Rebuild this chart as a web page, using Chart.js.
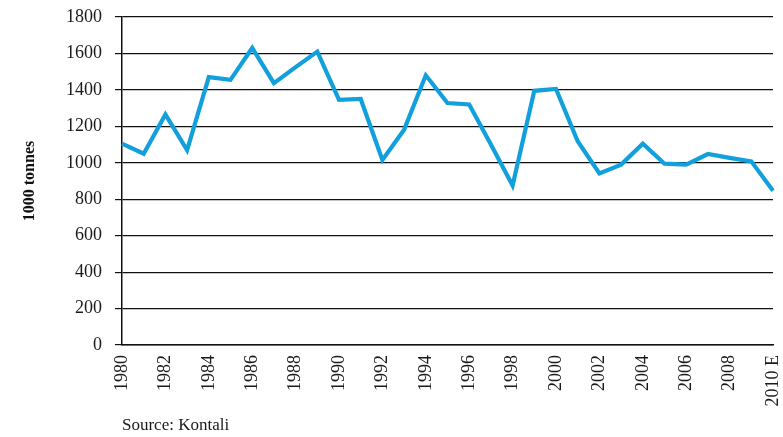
<!DOCTYPE html>
<html>
<head>
<meta charset="utf-8">
<script src="https://cdn.jsdelivr.net/npm/chart.js@4/dist/chart.umd.min.js"></script>
<style>
  html, body { margin: 0; padding: 0; background: #fff; }
  #wrap { width: 783px; height: 437px; position: relative; }
</style>
</head>
<body>
<div id="wrap"><canvas id="c"></canvas></div>
<script>
const categories = ['1980','1981','1982','1983','1984','1985','1986','1987','1988','1989',
  '1990','1991','1992','1993','1994','1995','1996','1997','1998','1999',
  '2000','2001','2002','2003','2004','2005','2006','2007','2008','2009','2010 E'];
const production = [1105,1050,1265,1070,1470,1455,1630,1437,1525,1610,
  1345,1350,1015,1182,1480,1328,1320,1100,875,1395,
  1405,1118,942,990,1105,995,990,1048,1027,1008,846];
const yTicks = [0,200,400,600,800,1000,1200,1400,1600,1800];
const yTitle = '1000 tonnes';
const sourceText = 'Source: Kontali';

const serif = "'Liberation Serif', 'DejaVu Serif', serif";

new Chart(document.getElementById('c'), {
  type: 'line',
  data: {
    labels: categories,
    datasets: [{
      data: production,
      borderColor: '#12a0dc',
      borderWidth: 4.2,
      borderJoinStyle: 'miter',
      pointRadius: 0,
      tension: 0,
      fill: false
    }]
  },
  options: {
    responsive: true,
    maintainAspectRatio: false,
    animation: false,
    layout: { padding: { top: 17, right: 10, left: 0, bottom: 0 } },
    plugins: {
      legend: { display: false },
      tooltip: { enabled: false },
      title: {
        display: true,
        text: sourceText,
        position: 'bottom',
        align: 'start',
        fullSize: false,
        color: '#1a1a1a',
        font: { family: serif, size: 17, weight: 'normal' },
        padding: { top: 0, bottom: 1.6 }
      }
    },
    scales: {
      x: {
        type: 'category',
        offset: false,
        grid: { display: false, drawTicks: false },
        border: { display: true, color: '#111', width: 1.5 },
        ticks: {
          autoSkip: false,
          maxRotation: 90,
          minRotation: 90,
          padding: 10,
          labelOffset: 0,
          color: '#1a1a1a',
          font: { family: serif, size: 18 },
          callback: function(v, i) { return i % 2 === 0 ? this.getLabelForValue(v) : ''; }
        },
        afterFit: s => { s.height = 70; s.paddingLeft = 0; s.paddingRight = 0; }
      },
      y: {
        min: yTicks[0],
        max: yTicks[yTicks.length - 1],
        afterBuildTicks: s => { s.ticks = yTicks.map(v => ({ value: v })); },
        grid: { color: '#111', lineWidth: 1.2, drawTicks: true, tickLength: 7 },
        border: { display: true, color: '#111', width: 1.5 },
        ticks: {
          padding: 13,
          color: '#1a1a1a',
          font: { family: serif, size: 18 },
          callback: v => String(v)
        },
        title: {
          display: true,
          text: yTitle,
          color: '#111',
          font: { family: serif, size: 16, weight: 'bold' },
          padding: { top: 20, bottom: 0 }
        },
        afterFit: s => { s.width = 122; s.paddingTop = 0; s.paddingBottom = 0; }
      }
    }
  }
});
</script>
</body>
</html>
